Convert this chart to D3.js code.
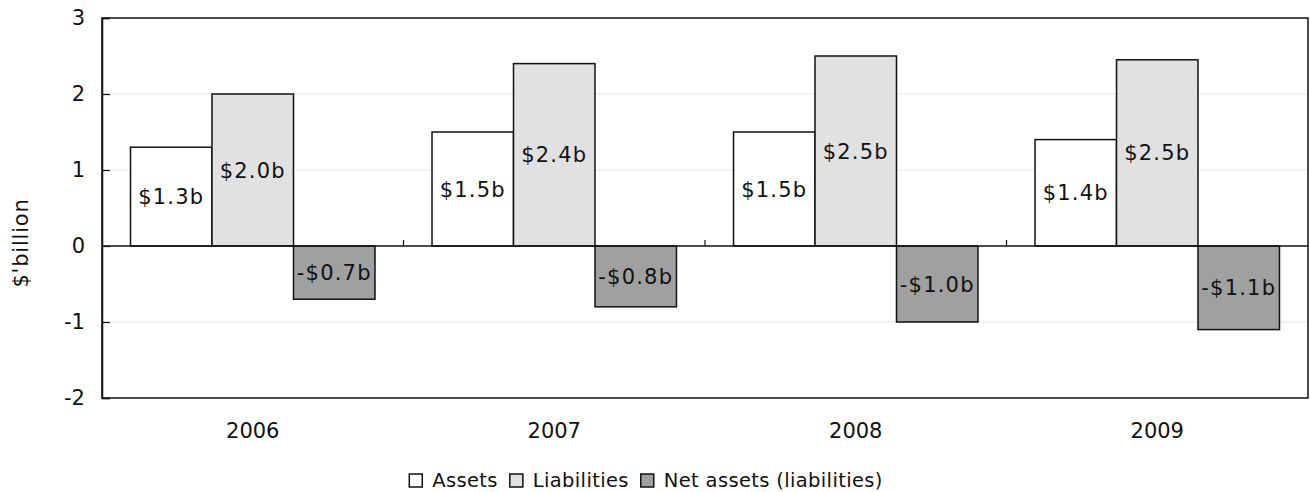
<!DOCTYPE html>
<html>
<head>
<meta charset="utf-8">
<script src="https://cdn.jsdelivr.net/npm/d3@7"></script>
<style>
  html, body { margin: 0; padding: 0; background: #fff; }
  svg { display: block; font-family: "DejaVu Sans", Verdana, sans-serif; }
</style>
</head>
<body>
<svg id="chart" width="1310" height="492"></svg>
<script>
// Balance sheet position, $ billion
const years = ["2006", "2007", "2008", "2009"];
const seriesNames = ["Assets", "Liabilities", "Net assets (liabilities)"];
const assets = [1.3, 1.5, 1.5, 1.4];
const liabilities = [2.0, 2.4, 2.5, 2.45];
const netAssets = [-0.7, -0.8, -1.0, -1.1];
const yTicks = [-2, -1, 0, 1, 2, 3];
const seriesFill = ["#ffffff", "#e1e1e1", "#a0a0a0"];

const values = [assets, liabilities, netAssets];

const svg = d3.select("#chart");
const margin = { left: 102, right: 2, top: 18, bottom: 94 };
const W = 1310, H = 492;
const plotW = W - margin.left - margin.right;
const plotH = H - margin.top - margin.bottom;
const FONT = 21;
const INK = "#111";

const g = svg.append("g").attr("transform", `translate(${margin.left},${margin.top})`);

const y = d3.scaleLinear().domain([-2, 3]).range([plotH, 0]);
const x0 = d3.scaleBand().domain(years).range([0, plotW]).paddingInner(0).paddingOuter(0);
const x1 = d3.scaleBand().domain(seriesNames).range([0, x0.bandwidth()]).paddingInner(0).paddingOuter(0.35);

const fmt = v => (v < 0 ? "-$" : "$") + d3.format(".1f")(Math.abs(v)) + "b";

// light horizontal gridlines
g.append("g")
  .selectAll("line")
  .data(yTicks.filter(t => t !== 0 && t !== 3 && t !== -2))
  .join("line")
  .attr("x1", 0).attr("x2", plotW)
  .attr("y1", d => y(d)).attr("y2", d => y(d))
  .attr("stroke", "#eeeeee").attr("stroke-width", 1.5);

// bars
const groups = g.append("g").selectAll("g")
  .data(years)
  .join("g")
  .attr("transform", d => `translate(${x0(d)},0)`);

const cells = (d, i) => seriesNames.map((s, j) => ({ s, j, v: values[j][i] }));

groups.selectAll("rect")
  .data(cells)
  .join("rect")
  .attr("x", d => x1(d.s))
  .attr("width", x1.bandwidth())
  .attr("y", d => y(Math.max(0, d.v)))
  .attr("height", d => Math.abs(y(d.v) - y(0)))
  .attr("fill", d => seriesFill[d.j])
  .attr("stroke", INK)
  .attr("stroke-width", 1.5);

// value labels centred inside bars
groups.selectAll("text")
  .data(cells)
  .join("text")
  .attr("x", d => x1(d.s) + x1.bandwidth() / 2)
  .attr("y", d => (y(d.v) + y(0)) / 2)
  .attr("dy", "0.36em")
  .attr("text-anchor", "middle")
  .attr("font-size", FONT)
  .attr("letter-spacing", 1.2)
  .attr("fill", INK)
  .text(d => fmt(d.v));

// plot frame
g.append("rect")
  .attr("x", 0).attr("y", 0).attr("width", plotW).attr("height", plotH)
  .attr("fill", "none").attr("stroke", INK).attr("stroke-width", 1.5);

// zero line with category separators
g.append("line")
  .attr("x1", 0).attr("x2", plotW)
  .attr("y1", y(0)).attr("y2", y(0))
  .attr("stroke", INK).attr("stroke-width", 1.5);
g.append("g").selectAll("line")
  .data(years.slice(1))
  .join("line")
  .attr("x1", d => x0(d)).attr("x2", d => x0(d))
  .attr("y1", y(0)).attr("y2", y(0) - 6)
  .attr("stroke", INK).attr("stroke-width", 1.2);

// y axis (ticks point inward)
const yAxis = d3.axisLeft(y).tickValues(yTicks).tickSize(-8).tickPadding(17).tickFormat(d => String(d));
const ya = g.append("g").call(yAxis);
ya.select(".domain").attr("stroke", INK).attr("stroke-width", 1.5);
ya.selectAll(".tick line").attr("stroke", INK).attr("stroke-width", 1.2);
ya.selectAll(".tick text")
  .attr("font-size", FONT).attr("fill", INK)
  .attr("font-family", "DejaVu Sans, Verdana, sans-serif");

// category labels under the plot
g.append("g").selectAll("text")
  .data(years)
  .join("text")
  .attr("x", d => x0(d) + x0.bandwidth() / 2)
  .attr("y", plotH + 32)
  .attr("dy", "0.36em")
  .attr("text-anchor", "middle")
  .attr("font-size", FONT)
  .attr("fill", INK)
  .text(d => d);

// y axis title
svg.append("text")
  .attr("transform", `translate(28,${margin.top + y(0) - 3}) rotate(-90)`)
  .attr("text-anchor", "middle")
  .attr("font-size", FONT)
  .attr("letter-spacing", 0.8)
  .attr("fill", INK)
  .text("$'billion");

// legend
const legend = svg.append("g").attr("transform", "translate(0,487)");
const items = legend.selectAll("g").data(seriesNames).join("g");
items.append("rect")
  .attr("width", 13).attr("height", 13).attr("y", -13)
  .attr("fill", (d, i) => seriesFill[i])
  .attr("stroke", INK).attr("stroke-width", 1.5);
items.append("text")
  .attr("x", 23)
  .attr("font-size", 19.5)
  .attr("letter-spacing", 0.35)
  .attr("fill", INK)
  .text(d => d);
// lay items out left to right, centred
const widths = [];
items.each(function () { widths.push(this.getBBox().width); });
const gap = 12;
const total = d3.sum(widths) + gap * (widths.length - 1);
let cursor = 646 - total / 2;
items.attr("transform", (d, i) => {
  const tx = cursor;
  cursor += widths[i] + gap;
  return `translate(${tx},0)`;
});
</script>
</body>
</html>
